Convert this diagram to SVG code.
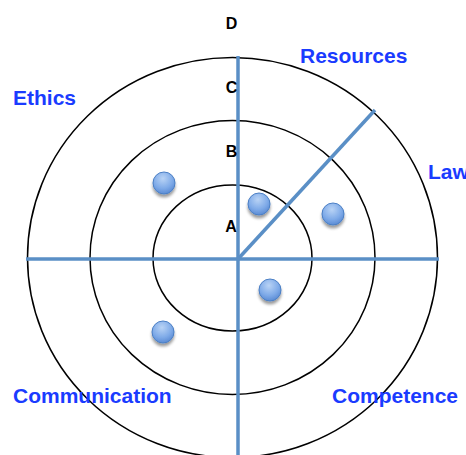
<svg xmlns="http://www.w3.org/2000/svg" width="466" height="455" viewBox="0 0 466 455">
<defs>
<radialGradient id="dotg" cx="0.45" cy="0.3" r="0.75">
<stop offset="0" stop-color="#b9d3f5"/>
<stop offset="0.6" stop-color="#7eaae8"/>
<stop offset="1" stop-color="#5485d0"/>
</radialGradient>
<filter id="sh" x="-50%" y="-50%" width="200%" height="200%">
<feGaussianBlur in="SourceAlpha" stdDeviation="1.5"/>
<feOffset dx="0" dy="2.5" result="b"/>
<feComponentTransfer><feFuncA type="linear" slope="0.4"/></feComponentTransfer>
<feMerge><feMergeNode/><feMergeNode in="SourceGraphic"/></feMerge>
</filter>
</defs>
<style>
.ring{fill:none;stroke:#000;stroke-width:1.5}
.axis{stroke:#5a8fc6;stroke-width:3.5;fill:none}
.lbl{font-family:"Liberation Sans",Arial,sans-serif;font-weight:bold;font-size:21px;fill:#1a3bff}
.lvl{font-family:"Liberation Sans",Arial,sans-serif;font-weight:bold;font-size:16px;fill:#000;text-anchor:middle}
.dot{fill:url(#dotg);stroke:#4b7fc4;stroke-width:1;filter:url(#sh)}
</style>
<rect width="466" height="455" fill="#fff"/>
<g id="rings">
<ellipse class="ring" cx="232.5" cy="257.5" rx="205" ry="200"/>
<ellipse class="ring" cx="232.5" cy="257.5" rx="142.5" ry="137"/>
<ellipse class="ring" cx="232.5" cy="258" rx="79.5" ry="73"/>
</g>
<g id="connectors">
<line class="axis" x1="26" y1="259" x2="439" y2="259"/>
<line class="axis" x1="238" y1="56" x2="238" y2="455"/>
<line class="axis" x1="238" y1="259" x2="375" y2="110"/>
</g>
<g id="levels">
<text class="lvl" x="231.5" y="29">D</text>
<text class="lvl" x="231.5" y="93">C</text>
<text class="lvl" x="231.5" y="157">B</text>
<text class="lvl" x="231" y="232">A</text>
</g>
<g id="labels">
<text class="lbl" x="13" y="105">Ethics</text>
<text class="lbl" x="300" y="63">Resources</text>
<text class="lbl" x="428" y="179">Law</text>
<text class="lbl" x="13" y="403">Communication</text>
<text class="lbl" x="332" y="403">Competence</text>
</g>
<g id="dots">
<circle class="dot" cx="164" cy="183" r="11"/>
<circle class="dot" cx="259" cy="204" r="11"/>
<circle class="dot" cx="333" cy="214" r="11"/>
<circle class="dot" cx="270" cy="290" r="11"/>
<circle class="dot" cx="163" cy="332" r="11"/>
</g>
</svg>
